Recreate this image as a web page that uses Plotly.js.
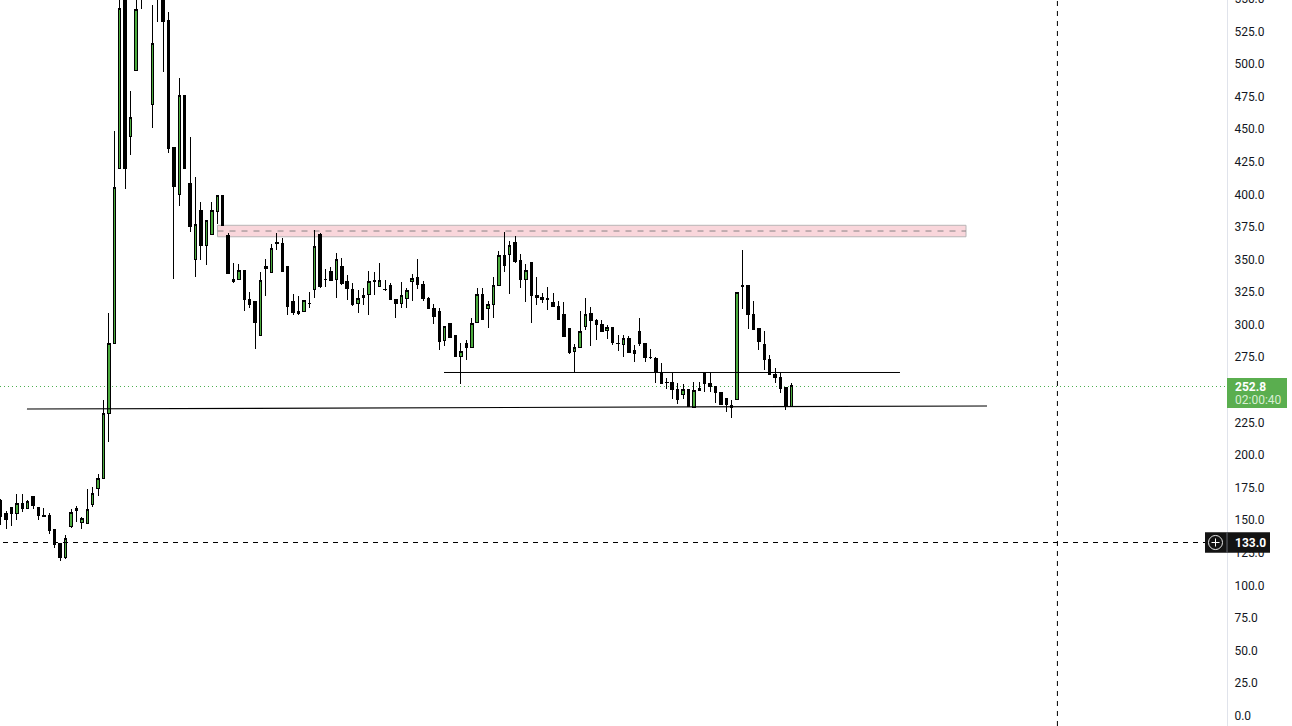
<!DOCTYPE html>
<html><head><meta charset="utf-8">
<script src="https://cdn.plot.ly/plotly-3.0.1.min.js"></script>
<style>html,body{margin:0;padding:0;background:#fff;overflow:hidden;width:1292px;height:726px}
#c{position:absolute;left:0;top:-20px;width:1292px;height:746px}
.boxlayer path{shape-rendering:crispEdges}</style></head><body><div id="c"></div>
<script>
const opens=[165.3,155.3,159.9,154.8,162.8,158.6,168.1,159.9,153.8,153.8,142.3,131.6,121,144.8,158.9,147.9,147.1,161.7,174,181.6,231.8,285.7,419.7,558,444,494.6,575,590,468.8,570,551,532.7,435.3,399.5,475.9,407.7,349.6,387.7,360.4,368.8,386.4,399,367.8,332.7,334.6,341.5,319.2,317.9,291.3,342.7,339.6,362.8,362.4,344.5,317.2,308.2,309.8,316.4,326.6,368.6,334.8,340.2,334.6,344.5,333,326.9,315.9,320.5,323.1,333.8,329.2,326.9,330,319.2,315.9,320,332.7,336.1,330.7,320.2,312.3,310,287.5,300.3,291.1,275.5,285.5,282.1,301.3,323.1,312.3,315.1,329.7,353,353.8,363,349.1,334.3,347.6,322.5,321,319.5,316.9,314.1,307.2,297,279.1,282.1,298.2,308.5,303.1,300.1,295.2,297.8,285.7,284.4,289.3,279.6,294.7,285.7,274.8,274.2,263.2,255.8,255.8,250.2,246.1,249.7,236.6,249.1,262.7,255,252.5,247.9,242.8,237.9,242.2,330.2,330.2,307.7,296.5,284.2,273.2,261.2,259.4,251.4,236.9];
const highs=[166.1,156.9,159.9,169.9,169.9,165.3,168.1,159.9,159.2,155.1,142.3,131.6,138.5,158.2,160.7,152.5,173.5,175,185,242,308.7,448.3,555,562,479,552,580,595,545,575,556,539.4,435.3,488.7,475.9,443.7,413,393.9,379.3,393.9,399,399,369.9,346.8,346.1,341.5,324.6,317.9,339.9,350.1,361.7,369.9,366,344.5,323.1,321.8,318.5,324.8,372.4,370.3,342.2,344,354.8,350.9,337.6,331.5,326.4,327.7,340.7,340.2,347.1,333.8,331.5,319.2,332.5,327.7,338.4,350.1,333.3,321,315.4,312.3,298.5,300.3,291.9,285.7,288,304.9,327.7,327.7,317.9,336.3,356.1,370.6,364,367.8,353.7,346.1,347.6,336.1,323.8,328.4,323.8,317.7,316.9,297,284.7,310,320,313.1,303.9,303.1,299.3,297.8,291.6,291.6,291.1,284.2,304.7,285.7,281.1,274.8,270.4,259.1,262.9,254.8,254.3,249.7,255.8,255.8,263.2,263.2,253,247.9,242.8,242,324.6,357.1,330.2,317.9,296.5,294.9,276.5,266.8,263.2,251.4,254.8];
const lows=[146.1,143.3,145.4,150,156.1,158.6,158.6,150,152.3,139.2,128.7,118.7,120,144,148.4,143.3,147.1,160.2,168.6,181.6,210,285.7,419.7,404.1,430.1,494.6,542.1,552,450.9,532.2,493.8,431.7,335,391,419.4,370.9,336.6,349.6,345.8,368.8,377.2,376.2,338.9,332,334.3,310.5,312.8,281.3,291.3,321.8,339.6,357,340.4,307.4,307.2,307.2,309.8,312.8,320.5,327.9,328.9,333.3,320.5,330.4,318.9,314.3,309,315.1,307.4,322.8,329.2,325.8,318.9,305.1,312.8,312.8,318.2,327.4,318.2,312,300.5,280.6,283.7,289.8,275.2,254.5,272.9,282.1,301.3,303.4,297.5,305.1,329.7,340.4,323.5,347.3,328.1,317.4,301.3,315.1,316.6,311.3,313.6,303.4,290.6,277.5,263.5,282.1,295.7,283.7,288,294.9,288.8,284.2,279.6,275,278,271.4,283.7,271.1,273.5,255,254.5,250.7,243,238.9,242.5,237.2,236.1,249.1,248.4,248.1,239.9,238.2,233,228.4,242.2,312,296.5,295.9,280.3,265,261.2,255.3,247.6,234.3,236.9];
const closes=[152.5,150.7,154.8,162.8,158.6,164.5,160.9,153.3,153,141.8,130.8,121,135.9,155.9,157.1,151.3,158.2,170.4,181.9,231.8,285.7,405.1,542.4,419.7,458.8,541.7,553.4,570,515.6,551,532.2,434.7,405.6,475.7,419.4,374.9,376.8,360.4,379.3,387,399,376.2,338.9,334.6,341.5,318.9,315.6,301.3,333.8,344.5,358.4,362.3,340.4,313.6,309,310,318.5,315.9,360.1,329.4,334.4,334,349.9,331.2,327.4,315.6,320,322.3,333,332.7,333.8,326.4,318.9,315.9,322.3,326.1,335.3,330.4,319.7,312,305.9,286.7,298.5,289.8,275.2,279.4,282.1,300.8,323.1,304.1,315.4,330,353,345,360.7,348.1,334.3,341.5,322,320.5,318.9,318.9,313.6,304.1,290.6,278.8,282.4,294.7,307.7,302.8,299.8,294.9,297.8,286,285.2,289.3,278.8,277.5,285.2,274.4,274.3,263.2,254.5,255.3,249.9,242.2,249.7,237.2,249.4,251.2,254.3,252.2,247.4,238.7,238.2,236.1,324.6,328.9,307.4,295.9,286.7,272.9,261.7,259.1,250.7,236.9,252.8];
const bars=opens.map((_,i)=>i);
const tickValues=[0,25,50,75,100,125,150,175,200,225,275,300,325,350,375,400,425,450,475,500,525,550];
const lastLine=252.35, cursorLine=132.7, cursorBar=195.13;
const zone={x0:40.05,x1:178.25,y0:367.2,y1:376,mid:371.6};
const support={x0:81.87,x1:166.06,y:263.1};
const trend={x0:4.87,y0:235.1,x1:182.13,y1:237.4};
const INK='#000000', GREEN='#4bab3e', TAG='#5aae4f', DARK='#131722', TAGDARK='#131313';
const W=1227, px=v=>v/W;

const trace={type:'candlestick',x:bars,open:opens,high:highs,low:lows,close:closes,
  increasing:{line:{color:INK,width:1},fillcolor:GREEN},
  decreasing:{line:{color:INK,width:1},fillcolor:INK},
  whiskerwidth:0,hoverinfo:'skip',showlegend:false};

const ln=(o,c,w,d)=>Object.assign({type:'line',line:{color:c,width:w,dash:d||'solid'}},o);
const shapes=[
 {type:'rect',layer:'below',xref:'x',yref:'y',x0:zone.x0,x1:zone.x1,y0:zone.y0,y1:zone.y1,fillcolor:'#f9d6db',line:{color:'#b8b4b6',width:1}},
 ln({layer:'below',xref:'x',yref:'y',x0:zone.x0,x1:zone.x1,y0:zone.mid,y1:zone.mid},'#8a8486',1,'6px,6px'),
 ln({layer:'below',xref:'paper',yref:'y',x0:0,x1:1,y0:lastLine,y1:lastLine},'#4caf50',1,'1px,3px'),
 ln({xref:'x',yref:'y',x0:support.x0,x1:support.x1,y0:support.y,y1:support.y},INK,1),
 ln({xref:'x',yref:'y',x0:trend.x0,x1:trend.x1,y0:trend.y0,y1:trend.y1},INK,1.2),
 ln({xref:'paper',yref:'y',x0:px(3),x1:px(1205),y0:cursorLine,y1:cursorLine},INK,1,'5px,5px'),
 ln({xref:'x',yref:'paper',x0:cursorBar,x1:cursorBar,y0:0,y1:1},INK,1,'5px,5px'),
 {type:'rect',xref:'paper',yref:'y',x0:1,x1:px(1287),y0:235.9,y1:258.9,fillcolor:TAG,line:{width:0}},
 {type:'rect',xref:'paper',yref:'y',x0:px(1205),x1:px(1270),y0:124.9,y1:140.5,fillcolor:TAGDARK,line:{width:0}},
 ln({xref:'paper',yref:'y',x0:1,x1:1,y0:124.9,y1:140.5},'#666a73',1),
 {type:'circle',xref:'paper',yref:'y',x0:px(1208.5),x1:px(1222.5),y0:127.3,y1:138.1,fillcolor:'rgba(0,0,0,0)',line:{color:'#e8e8e8',width:1}},
 ln({xref:'paper',yref:'y',x0:px(1211.5),x1:px(1219.5),y0:132.7,y1:132.7},'#ffffff',1),
 ln({xref:'paper',yref:'y',x0:px(1215.5),x1:px(1215.5),y0:129.6,y1:135.8},'#ffffff',1)
];
const F='Roboto, sans-serif';
const note=(t,x,y,c,s)=>({text:t,xref:'paper',yref:'y',x:px(x),y:y,xanchor:'left',yanchor:'middle',showarrow:false,font:{family:F,size:s||12,color:c},borderpad:0,borderwidth:0});
const annotations=[
 note('<b>252.8</b>',1235,252.3,'#ffffff'),
 note('02:00:40',1235,241.9,'#d9efd4'),
 note('<b>133.0</b>',1235,132.7,'#ffffff')
];
Plotly.newPlot('c',[trace],{
  width:1292,height:746,margin:{l:0,r:65,t:0,b:0,pad:0},
  paper_bgcolor:'#ffffff',plot_bgcolor:'#ffffff',showlegend:false,dragmode:false,boxgap:0.3,boxgroupgap:0.35,
  xaxis:{visible:false,range:[-0.11,226.44],rangeslider:{visible:false},fixedrange:true,type:'linear'},
  yaxis:{side:'right',range:[-8.04,564.14],tickmode:'array',tickvals:tickValues,tickformat:'.1f',showgrid:false,zeroline:false,
    showline:true,linecolor:'#e0e3eb',linewidth:1,ticks:'outside',ticklen:4,tickcolor:'rgba(0,0,0,0)',
    tickfont:{family:F,size:12,color:DARK},fixedrange:true},
  shapes,annotations
},{displayModeBar:false,staticPlot:true}).then(()=>{
  document.querySelectorAll('.ytick text').forEach(t=>t.setAttribute('y',(+t.getAttribute('y')||0)+0.3));
});
</script></body></html>
